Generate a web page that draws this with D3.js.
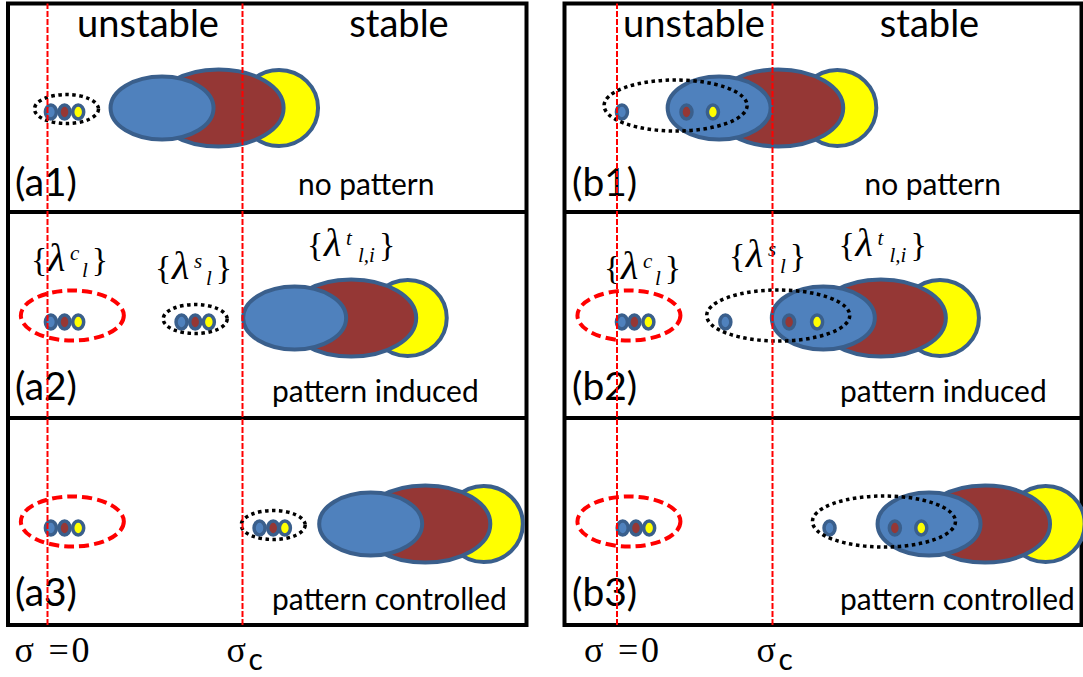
<!DOCTYPE html>
<html>
<head>
<meta charset="utf-8">
<script src="https://cdn.jsdelivr.net/npm/d3@7"></script>
<style>
  body { margin: 0; background: #fff; }
  svg { display: block; }
</style>
</head>
<body>
<svg id="fig" width="1083" height="677"></svg>
<script>
// ---- captions ----
const regionNames = ["unstable", "stable"];
const tagsA = ["(a1)", "(a2)", "(a3)"];
const tagsB = ["(b1)", "(b2)", "(b3)"];
const outcomes = ["no pattern", "pattern induced", "pattern controlled"];
const sigmaTicks = [0, 1];            // σ = 0 and σ = σc
const groupKeys = ["c", "s", "t"];     // superscripts of the λ groups
const groupSubs = ["l", "l", "l,i"];   // subscripts of the λ groups

// ---- eigenvalue positions along σ (units of σc); order: blue, brown, yellow ----
// {λ^t_{l,i}} : the large modes
const tA = [[0.59, 0.88, 1.19], [1.27, 1.56, 1.85], [1.66, 1.94, 2.24]];
const tB = [[0.66, 1.04, 1.42], [1.33, 1.70, 2.08], [2.01, 2.37, 2.76]];
// {λ^s_l} : modes inside the dotted ring
const sA = [[0.02, 0.09, 0.16], [0.69, 0.76, 0.83], [1.09, 1.16, 1.22]];
const sB = [[0.035, 0.45, 0.62], [0.70, 1.11, 1.29], [1.37, 1.79, 1.96]];
const sRingA = [0.10, 0.76, 1.16];
const sRingB = [0.38, 1.04, 1.72];
// {λ^c_l} : modes inside the red dashed ring
const cA = [null, [0.02, 0.09, 0.16], [0.02, 0.09, 0.16]];
const cB = [null, [0.035, 0.115, 0.205], [0.04, 0.125, 0.21]];
const cRingA = [null, 0.13, 0.13];
const cRingB = [null, 0.08, 0.08];

// ---- styling ----
const SANS = "Lato, 'Open Sans', sans-serif";
const SERIF = "'Liberation Serif', 'DejaVu Serif', serif";
const FILL = ["#4f81bd", "#953735", "#ffff00"];
const EDGE = "#3a5f8c";
const BIG_RX = [51.5, 65, 39], BIG_RY = [31.5, 38.5, 38];
const SMALL_RX = 5.5, SMALL_RY = 7;

const svg = d3.select("#fig");
const rowLines = [3.5, 212, 418, 625];
const rowMid = [108, 318, 524];

const columns = [
  { box: [8, 526.5], x: d3.scaleLinear().domain([0, 1]).range([47, 242]),
    t: tA, s: sA, sRing: sRingA, sRx: 32, sRy: 14.5, sDy: 1, c: cA, cRing: cRingA,
    tags: tagsA, tagX: 15, titleX: [148, 399], outX: [298, 272, 272],
    lambdaPos: [[31, 247], [155, 255], [307, 232]] },
  { box: [564.5, 1081.5], x: d3.scaleLinear().domain([0, 1]).range([616.5, 772]),
    t: tB, s: sB, sRing: sRingB, sRx: 71.5, sRy: 25.5, sDy: -2.5, c: cB, cRing: cRingB,
    tags: tagsB, tagX: 572, titleX: [694, 929.5], outX: [864.5, 840, 840],
    lambdaPos: [[604, 255], [729, 243], [838.5, 232]] }
];

// width of a string in a given font
function measure(str, family, size, style) {
  const t = svg.append("text").attr("font-family", family).attr("font-size", size)
    .attr("font-style", style || "normal").text(str);
  const w = t.node().getComputedTextLength();
  t.remove();
  return w;
}
// font size that makes a string span a given width
function fitSize(str, family, width) {
  return 100 * width / measure(str, family, 100);
}
const titleSize = fitSize("unstable", SANS, 142);
const outSize = fitSize("pattern controlled", SANS, 235);
const tagSize = fitSize("(a1)", SANS, 62);

function modeData(arr) { return arr.map((v, i) => ({ v, i })); }

columns.forEach(col => {
  const g = svg.append("g");
  const x = col.x;

  // frame and row dividers
  g.append("rect")
    .attr("x", col.box[0]).attr("y", rowLines[0])
    .attr("width", col.box[1] - col.box[0]).attr("height", rowLines[3] - rowLines[0])
    .attr("fill", "none").attr("stroke", "#000").attr("stroke-width", 4);
  g.selectAll("line.div").data(rowLines.slice(1, 3)).join("line")
    .attr("x1", col.box[0]).attr("x2", col.box[1])
    .attr("y1", d => d).attr("y2", d => d)
    .attr("stroke", "#000").attr("stroke-width", 4);

  [0, 1, 2].forEach(r => {
    const row = g.append("g");
    const cy = rowMid[r];

    // large modes: yellow under brown under blue
    row.selectAll("ellipse.big").data(modeData(col.t[r]).reverse()).join("ellipse")
      .attr("class", "big")
      .attr("cx", d => x(d.v)).attr("cy", cy)
      .attr("rx", d => BIG_RX[d.i]).attr("ry", d => BIG_RY[d.i])
      .attr("fill", d => FILL[d.i]).attr("stroke", EDGE).attr("stroke-width", 4);

    // small modes
    const smallSets = [col.s[r]];
    if (col.c[r]) smallSets.push(col.c[r]);
    smallSets.forEach(set => {
      row.append("g").selectAll("ellipse").data(modeData(set)).join("ellipse")
        .attr("cx", d => x(d.v)).attr("cy", cy + 4)
        .attr("rx", SMALL_RX).attr("ry", SMALL_RY)
        .attr("fill", d => FILL[d.i]).attr("stroke", EDGE).attr("stroke-width", 3.5);
    });

    // dotted ring around {λ^s}
    row.append("ellipse")
      .attr("cx", x(col.sRing[r])).attr("cy", cy + col.sDy)
      .attr("rx", col.sRx).attr("ry", col.sRy)
      .attr("fill", "none").attr("stroke", "#000").attr("stroke-width", 3.5)
      .attr("stroke-dasharray", "3.5,3.5");

    // red dashed ring around {λ^c}
    if (col.cRing[r] !== null) {
      row.append("ellipse")
        .attr("cx", x(col.cRing[r])).attr("cy", cy - 2.5)
        .attr("rx", 51.5).attr("ry", 25)
        .attr("fill", "none").attr("stroke", "#ff0000").attr("stroke-width", 4)
        .attr("stroke-dasharray", "10,5");
    }

    // panel tag and outcome
    g.append("text").attr("x", col.tagX).attr("y", [196, 400, 606][r])
      .attr("font-family", SANS).attr("font-size", tagSize).text(col.tags[r]);
    g.append("text").attr("x", col.outX[r]).attr("y", [195, 402, 610][r])
      .attr("font-family", SANS).attr("font-size", outSize).text(outcomes[r]);
  });

  // region titles
  g.selectAll("text.title").data(regionNames).join("text")
    .attr("class", "title")
    .attr("x", (d, i) => col.titleX[i]).attr("y", 37)
    .attr("text-anchor", "middle")
    .attr("font-family", SANS).attr("font-size", titleSize).text(d => d);

  // {λ^k_sub} group labels in the middle row, one text element each
  col.lambdaPos.forEach(([lx, top], k) => {
    const base = top + 24;
    const subW = measure(groupSubs[k], SERIF, 21, "italic");
    const t = g.append("text").attr("font-family", SERIF).attr("fill", "#000")
      .attr("y", base).attr("font-size", 34);
    t.append("tspan").attr("x", lx).text("{");
    t.append("tspan").attr("x", lx + 17).attr("font-style", "italic").attr("font-size", 40)
      .text("λ");
    t.append("tspan").attr("x", lx + 39).attr("dy", -11).attr("font-size", 21)
      .attr("font-style", "italic").text(groupKeys[k]);
    t.append("tspan").attr("x", lx + 51).attr("dy", 17).attr("font-size", 21)
      .attr("font-style", "italic").text(groupSubs[k]);
    t.append("tspan").attr("x", lx + 51 + subW + 4).attr("dy", -6).text("}");
  });

  // σ axis: dashed red guides at σ = 0 and σ = σc
  const axis = d3.axisBottom(x).tickValues(sigmaTicks)
    .tickSize(-(rowLines[3] - rowLines[0])).tickFormat("");
  const ag = svg.append("g").attr("transform", `translate(0,${rowLines[3]})`).call(axis);
  ag.select(".domain").remove();
  ag.selectAll(".tick line")
    .attr("stroke", "#ff0000").attr("stroke-width", 2).attr("stroke-dasharray", "6,2");
  ag.selectAll(".tick").each(function (d) {
    const tk = d3.select(this);
    if (d === 0) {
      const t = tk.append("text").attr("fill", "#000").attr("font-family", SERIF)
        .attr("font-size", 36).attr("y", 37).attr("text-anchor", "start");
      t.append("tspan").attr("x", -33).text("σ");
      t.append("tspan").attr("x", 1).text("=");
      t.append("tspan").attr("x", 24).text("0");
    } else {
      const t = tk.append("text").attr("fill", "#000").attr("font-family", SERIF)
        .attr("font-size", 36).attr("y", 37).attr("text-anchor", "start");
      t.append("tspan").attr("x", -16).text("σ");
      t.append("tspan").attr("x", 6).attr("dy", 8).attr("font-family", SANS)
        .attr("font-size", 30).text("c");
    }
  });
});
</script>
</body>
</html>
